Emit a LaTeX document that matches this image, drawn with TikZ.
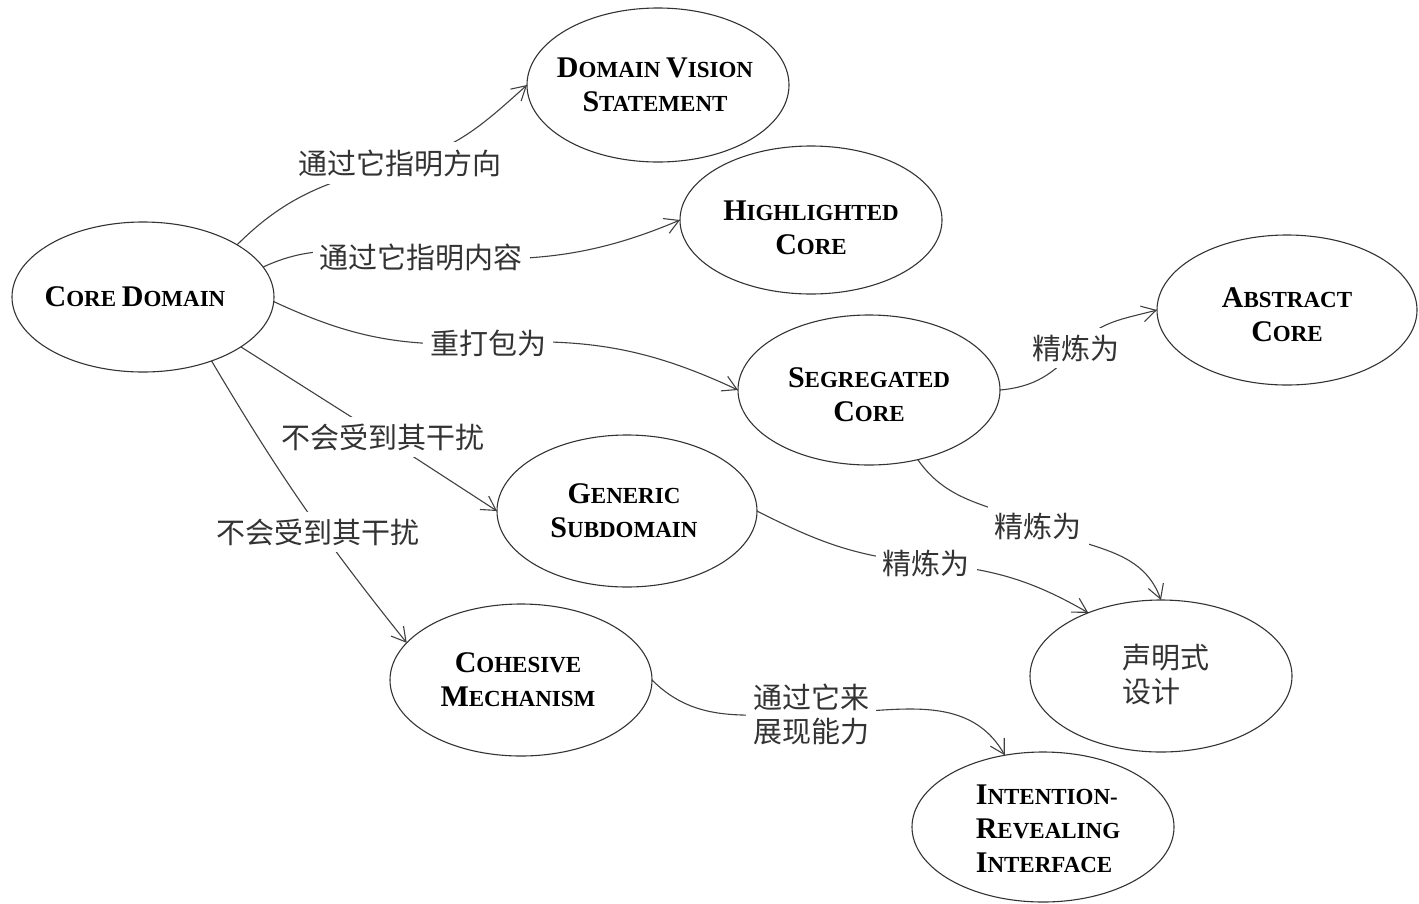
\documentclass[tikz,border=0pt]{standalone}
\usepackage{fontspec}
\setmainfont{Liberation Serif}
\newfontfamily\cjk{Noto Sans CJK SC}
\usetikzlibrary{shapes.geometric,arrows.meta,backgrounds}
\newcommand\capsc[2]{{\fontsize{30}{34}\selectfont #1}{\fontsize{23}{34}\selectfont #2}}
\begin{document}
\begin{tikzpicture}[x=1pt,y=1pt,
  ell/.style={ellipse,draw=black!80,line width=1.1pt,minimum width=262pt,minimum height=150pt,inner sep=0pt,outer sep=0pt},
  ttl/.style={inner sep=0pt,align=center,font=\bfseries\fontsize{23}{34}\selectfont},
  ttll/.style={inner sep=0pt,align=left,font=\bfseries\fontsize{23}{34}\selectfont},
  cjkt/.style={inner sep=0pt,align=left,text=black!80,font=\cjk\fontsize{29}{34}\selectfont},
  lbl/.style={fill=white,inner sep=7pt,align=center,text=black!80,font=\cjk\fontsize{29}{34}\selectfont},
  edge/.style={draw=black!75,line width=1.1pt,-{Straight Barb[length=14pt,width=16pt,line width=1.1pt]}}]
\useasboundingbox (0,0) rectangle (1419,-903);

% concepts
\node[ell,label={[ttl,xshift=-8pt]center:{\capsc{C}{ORE} \capsc{D}{OMAIN}}}] (cd) at (143,-297) {};
\node[ell,minimum height=154pt,label={[ttl,xshift=-3pt]center:{\capsc{D}{OMAIN} \capsc{V}{ISION}\\\capsc{S}{TATEMENT}}}] (dvs) at (658,-85) {};
\node[ell,minimum height=148pt,label={[ttl,yshift=-8pt]center:{\capsc{H}{IGHLIGHTED}\\\capsc{C}{ORE}}}] (hc) at (811,-220) {};
\node[ell,minimum width=260pt,label={[ttl,yshift=-5pt]center:{\capsc{A}{BSTRACT}\\\capsc{C}{ORE}}}] (ac) at (1287,-310) {};
\node[ell,label={[ttl,yshift=-5pt]center:{\capsc{S}{EGREGATED}\\\capsc{C}{ORE}}}] (sc) at (869,-390) {};
\node[ell,minimum width=260pt,minimum height=152pt,label={[ttl,xshift=-3pt]center:{\capsc{G}{ENERIC}\\\capsc{S}{UBDOMAIN}}}] (gs) at (627,-511) {};
\node[ell,minimum height=152pt,label={[ttl,xshift=-3pt]center:{\capsc{C}{OHESIVE}\\\capsc{M}{ECHANISM}}}] (cm) at (521,-680) {};
\node[ell,minimum height=152pt,label={[cjkt,xshift=5pt,yshift=2pt]center:{声明式\\设计}}] (dd) at (1161,-676) {};
\node[ell,label={[ttll,xshift=5pt,yshift=-2pt]center:{\capsc{I}{NTENTION-}\\\capsc{R}{EVEALING}\\\capsc{I}{NTERFACE}}}] (iri) at (1043,-827) {};

% labels
\node[lbl] (l1) at (400,-163) {通过它指明方向};
\node[lbl] (l2) at (421,-257) {通过它指明内容};
\node[lbl] (l3) at (488,-343) {重打包为};
\node[lbl] (l4) at (383,-437) {不会受到其干扰};
\node[lbl] (l5) at (318,-532) {不会受到其干扰};
\node[lbl] (l6) at (1076,-348) {精炼为};
\node[lbl] (l7) at (1038,-526) {精炼为};
\node[lbl] (l8) at (926,-563) {精炼为};
\node[lbl] (l9) at (811,-714) {通过它来\\展现能力};

% connectors
\begin{scope}[on background layer]
\draw[edge] (cd.29) to[out=45,in=194] (l1.center) to[out=14,in=222] (dvs.west);
\draw[edge] (cd.14) to[out=25,in=177] (l2.center) to[out=-3,in=203] (hc.west);
\draw[edge] (cd.-2) to[out=-25,in=183] (l3.center) to[out=3,in=155] (sc.west);
\draw[edge] (cd.-27) -- (l4.center) -- (gs.west);
\draw[edge] (cd.-43) to[bend right=4] (cm.162);
\draw[edge] (sc.east) to[out=5,in=230] (l6.center) to[out=50,in=195] (ac.west);
\draw[edge] (sc.-55) to[out=-55,in=155] (l7.center) to[out=-25,in=110] (dd.north);
\draw[edge] (gs.east) to[out=-27,in=175] (l8.center) to[out=-5,in=150] (dd.139);
\draw[edge] (cm.east) to[out=-45,in=180] (l9.center) to[out=0,in=120] (iri.118);
\end{scope}
\end{tikzpicture}
\end{document}
